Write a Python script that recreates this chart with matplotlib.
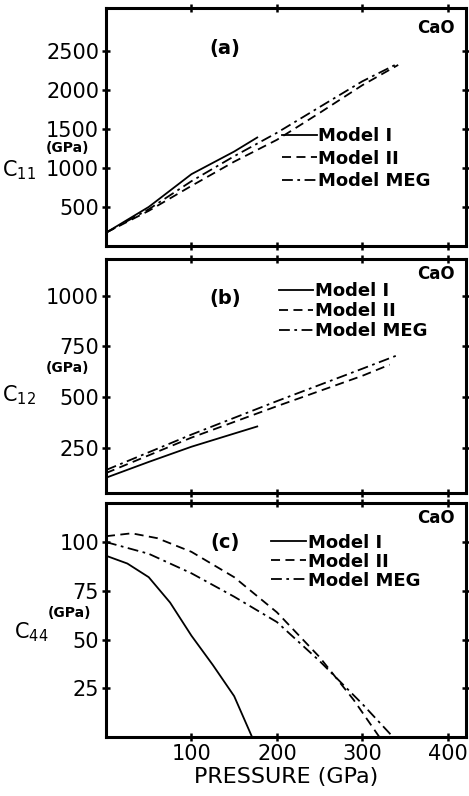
import matplotlib
matplotlib.use("Agg")
import matplotlib.pyplot as plt

plt.rcParams['font.family'] = ['DejaVu Sans']

# (a) C11
p11_I = [0, 50, 100, 150, 177]
c11_I = [170, 500, 920, 1210, 1390]
p11_II = [0, 50, 100, 150, 200, 250, 300, 342]
c11_II = [170, 450, 770, 1080, 1360, 1705, 2060, 2320]
p11_MEG = [0, 50, 100, 150, 200, 250, 300, 342]
c11_MEG = [170, 470, 830, 1150, 1450, 1780, 2110, 2340]

# (b) C12
p12_I = [0, 50, 100, 150, 177]
c12_I = [102, 180, 255, 320, 355]
p12_II = [0, 100, 200, 300, 332]
c12_II = [125, 300, 455, 605, 660]
p12_MEG = [0, 100, 200, 300, 342]
c12_MEG = [140, 315, 480, 640, 708]

# (c) C44
p44_I = [0, 25, 50, 75, 100, 125, 150, 171]
c44_I = [93, 89, 82, 69, 52, 37, 21, 0]
p44_II = [0, 30, 60, 100, 150, 200, 250, 290, 320]
c44_II = [103, 104.5, 102, 95, 82, 64, 41, 19, 0]
p44_MEG = [0, 50, 100, 150, 200, 250, 300, 336]
c44_MEG = [100, 94, 84, 72, 59, 39, 17, 0]

xticks = [100, 200, 300, 400]
labels = ['Model I', 'Model II', 'Model MEG']

fig = plt.figure(figsize=(4.69, 7.96), dpi=100)
ax_a = fig.add_axes([0.226, 0.691, 0.767, 0.299])
ax_b = fig.add_axes([0.226, 0.381, 0.767, 0.294])
ax_c = fig.add_axes([0.226, 0.074, 0.767, 0.294])

styles = [dict(ls='-'), dict(ls=(0, (5, 3))), dict(ls=(0, (6, 2.5, 1.5, 2.5)))]


def draw(ax, data, ylim, yticks, ylabel_sub, panel, cao_y, leg_xy, spacing,
         gpa_xy, c_xy):
    for (p, c), st in zip(data, styles):
        ax.plot(p, c, color='black', lw=1.3, **st)
    ax.set_xlim(0, 421)
    ax.set_ylim(*ylim)
    ax.set_xticks(xticks)
    ax.set_yticks(yticks)
    ax.tick_params(direction='inout', length=6, width=1.8, top=True, right=True,
                   labelsize=15, pad=2)
    for s in ax.spines.values():
        s.set_linewidth(2.2)
    ax.text(0.33, 0.83, panel, transform=ax.transAxes, fontsize=14,
            fontweight='bold', ha='center', va='center')
    ax.text(0.97, cao_y, 'CaO', transform=ax.transAxes, fontsize=12,
            fontweight='bold', ha='right', va='center')
    leg = ax.legend(labels, loc='upper left', bbox_to_anchor=leg_xy, frameon=False,
                    fontsize=13, handlelength=1.9, handletextpad=0.1,
                    labelspacing=spacing, borderaxespad=0)
    for t in leg.get_texts():
        t.set_fontweight('bold')
    fig.text(gpa_xy[0], gpa_xy[1], '(GPa)', fontsize=10, fontweight='bold',
             ha='center', va='center')
    fig.text(c_xy[0], c_xy[1], 'C$_{' + ylabel_sub + '}$', fontsize=15,
             ha='left', va='center')


draw(ax_a, [(p11_I, c11_I), (p11_II, c11_II), (p11_MEG, c11_MEG)],
     (0, 3050), [500, 1000, 1500, 2000, 2500], '11', '(a)', 0.915,
     (0.47, 0.53), 0.25, (0.143, 1 - 148 / 796), (0.005, 1 - 170 / 796))
draw(ax_b, [(p12_I, c12_I), (p12_II, c12_II), (p12_MEG, c12_MEG)],
     (28, 1183), [250, 500, 750, 1000], '12', '(b)', 0.935,
     (0.46, 0.93), 0.1, (0.143, 1 - 368 / 796), (0.005, 1 - 395 / 796))
draw(ax_c, [(p44_I, c44_I), (p44_II, c44_II), (p44_MEG, c44_MEG)],
     (0, 120), [25, 50, 75, 100], '44', '(c)', 0.935,
     (0.44, 0.90), 0.05, (0.148, 1 - 613 / 796), (0.03, 1 - 632 / 796))

ax_a.set_xticklabels([])
ax_b.set_xticklabels([])
ax_c.set_xlabel('PRESSURE (GPa)', fontsize=16, labelpad=2)

fig.savefig('out.png', dpi=100)
